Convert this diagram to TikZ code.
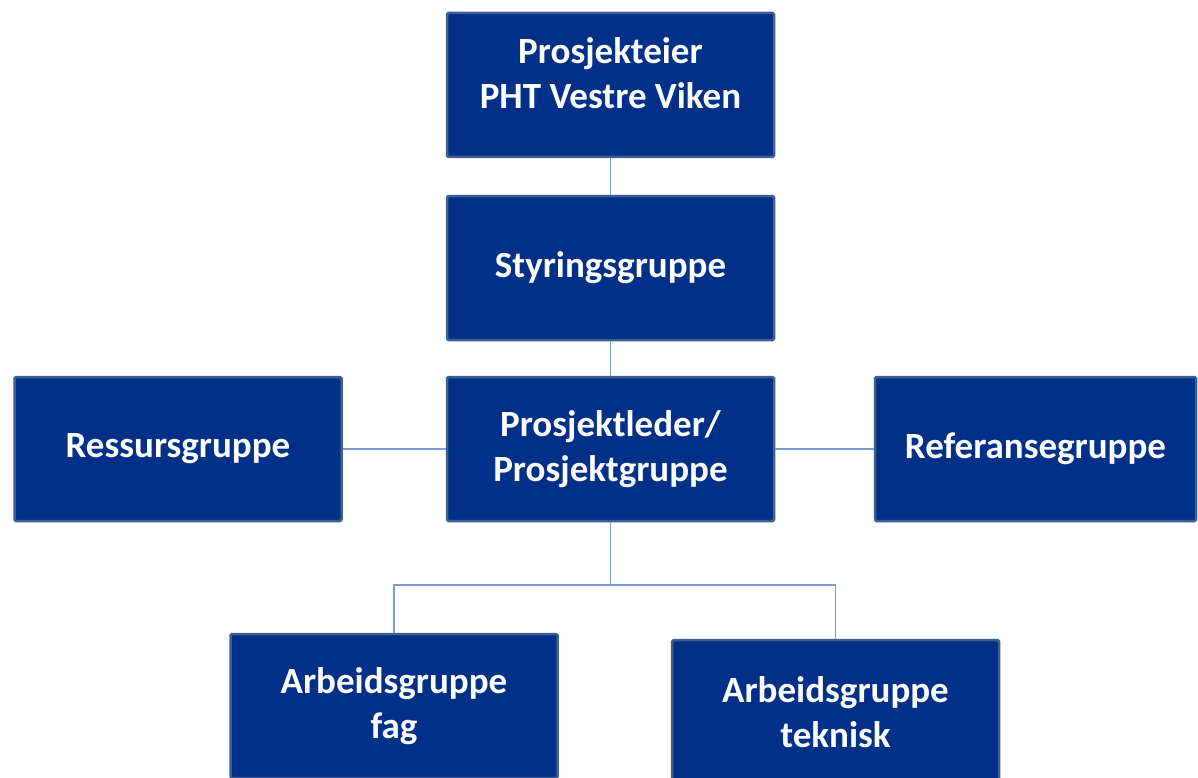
\documentclass[tikz,border=0pt]{standalone}
\usepackage{fontspec}
\setmainfont{Carlito}
\definecolor{boxfill}{HTML}{003087}
\definecolor{boxline}{HTML}{3E5E8E}
\definecolor{conn}{HTML}{7A9CD0}
\begin{document}
\begin{tikzpicture}[x=1pt,y=-1pt,
  boxfont/.style={font=\fontsize{37}{45}\selectfont\bfseries},
  orgbox/.style={draw=boxline, line width=2.5pt, fill=boxfill, rounded corners=1.5pt,
    minimum width=327pt, minimum height=144pt, inner sep=0pt, text=white,
    boxfont, align=center},
  conline/.style={draw=conn, line width=1.5pt}]
\useasboundingbox (0,0) rectangle (1198,778);
\clip (0,0) rectangle (1198,778);
\node[orgbox, label={[text=white, boxfont, align=center, yshift=12pt]center:Prosjekteier\\PHT Vestre Viken}] (eier) at (610.5,85) {};
\node[orgbox] (styr) at (610.5,268) {Styringsgruppe};
\node[orgbox] (pl) at (610.5,449) {Prosjektleder/\\Prosjektgruppe};
\node[orgbox] (res) at (178,449) {Ressursgruppe};
\node[orgbox, minimum width=321pt] (ref) at (1035.5,449) {Referansegruppe};
\node[orgbox] (fag) at (394,706) {Arbeidsgruppe\\fag};
\node[orgbox] (tek) at (835.5,712) {Arbeidsgruppe\\teknisk};
\coordinate (split) at (610.5,585);
\draw[conline] (eier.south) -- (styr.north);
\draw[conline] (styr.south) -- (pl.north);
\draw[conline] (res.east) -- (pl.west);
\draw[conline] (pl.east) -- (ref.west);
\draw[conline] (pl.south) -- (split);
\draw[conline] (split) -| (fag.north);
\draw[conline] (split) -| (tek.north);
\end{tikzpicture}
\end{document}
